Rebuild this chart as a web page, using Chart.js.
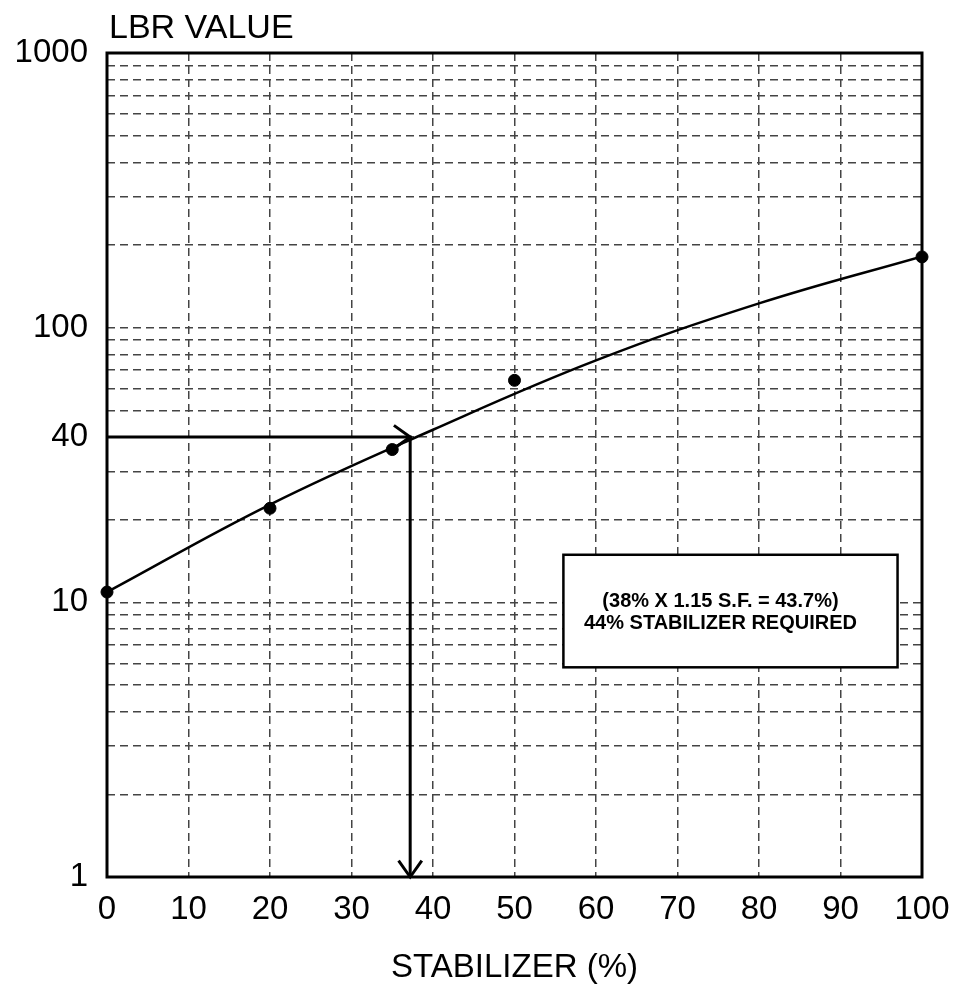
<!DOCTYPE html>
<html>
<head>
<meta charset="utf-8">
<script src="https://cdn.jsdelivr.net/npm/chart.js@4.4.1/dist/chart.umd.min.js"></script>
<style>
  html, body { margin: 0; padding: 0; background: #fff; }
  #wrap { width: 956px; height: 990px; }
</style>
</head>
<body>
<div id="wrap"><canvas id="c" width="956" height="990"></canvas></div>
<script>
// ---- data ----
const xTickValues = [0, 10, 20, 30, 40, 50, 60, 70, 80, 90, 100];
const yTickLabels = [1, 10, 40, 100, 1000];
const curveX = [0, 20, 40, 60, 80, 100];
const curveY = [10.9, 22.7, 42.5, 76.0, 122.6, 181.8];
const pointX = [0, 20, 35, 50, 100];
const pointY = [10.9, 22.0, 36.0, 64.3, 181];
const arrowX = [0, 37.2, 37.2];
const arrowY = [40, 40, 1];
const noteLines = ['(38% X 1.15 S.F. = 43.7%)', '44% STABILIZER REQUIRED'];
const noteBoxX = [56, 97];     // data x range of note box
const noteBoxY = [14.9, 5.8];  // data y range of note box
const yTitle = 'LBR VALUE';
const xTitle = 'STABILIZER (%)';

const FONT = '"Liberation Sans", Arial, Helvetica, sans-serif';

const yGridValues = [];
for (let d = 1; d <= 100; d *= 10) for (let m = 1; m <= 9; m++) yGridValues.push(m * d);
yGridValues.push(1000);

const decorPlugin = {
  id: 'decor',
  afterDatasetsDraw(chart) {
    const {ctx, scales: {x, y}} = chart;
    // arrowheads
    ctx.save();
    ctx.strokeStyle = '#000';
    ctx.lineWidth = 3;
    ctx.lineCap = 'butt';
    const drawHead = (tx, ty, angle) => {
      const len = 20, spread = 0.62;
      ctx.beginPath();
      ctx.moveTo(tx - len * Math.cos(angle - spread), ty - len * Math.sin(angle - spread));
      ctx.lineTo(tx, ty);
      ctx.lineTo(tx - len * Math.cos(angle + spread), ty - len * Math.sin(angle + spread));
      ctx.stroke();
    };
    drawHead(x.getPixelForValue(arrowX[1]), y.getPixelForValue(arrowY[1]), 0);
    drawHead(x.getPixelForValue(arrowX[2]), y.getPixelForValue(arrowY[2]), Math.PI / 2);
    ctx.restore();

    // note box
    const bx1 = x.getPixelForValue(noteBoxX[0]);
    const bx2 = x.getPixelForValue(noteBoxX[1]);
    const by1 = y.getPixelForValue(noteBoxY[0]);
    const by2 = y.getPixelForValue(noteBoxY[1]);
    ctx.save();
    ctx.fillStyle = '#fff';
    ctx.fillRect(bx1, by1, bx2 - bx1, by2 - by1);
    ctx.strokeStyle = '#000';
    ctx.lineWidth = 2.5;
    ctx.strokeRect(bx1, by1, bx2 - bx1, by2 - by1);
    ctx.fillStyle = '#000';
    ctx.font = 'bold 20px ' + FONT;
    ctx.textAlign = 'center';
    ctx.textBaseline = 'middle';
    const cx = (bx1 + bx2) / 2 - 10;
    const cy = (by1 + by2) / 2;
    ctx.fillText(noteLines[0], cx, cy - 10);
    ctx.fillText(noteLines[1], cx, cy + 12);
    ctx.restore();
  },
  afterDraw(chart) {
    const {ctx, chartArea: a} = chart;
    ctx.save();
    ctx.strokeStyle = '#000';
    ctx.lineWidth = 3;
    ctx.strokeRect(a.left, a.top, a.right - a.left, a.bottom - a.top);
    // y axis title (horizontal, above the plot)
    ctx.fillStyle = '#000';
    ctx.font = '34px ' + FONT;
    ctx.textAlign = 'left';
    ctx.textBaseline = 'alphabetic';
    ctx.fillText(yTitle, a.left + 2, 38);
    ctx.restore();
  }
};

new Chart(document.getElementById('c'), {
  type: 'line',
  data: {
    datasets: [
      {
        label: 'curve',
        data: curveX.map((v, i) => ({x: v, y: curveY[i]})),
        borderColor: '#000',
        borderWidth: 2.5,
        pointRadius: 0,
        tension: 0.4,
        fill: false
      },
      {
        label: 'points',
        type: 'scatter',
        data: pointX.map((v, i) => ({x: v, y: pointY[i]})),
        backgroundColor: '#000',
        borderColor: '#000',
        pointRadius: 6,
        showLine: false,
        clip: false
      },
      {
        label: 'arrow',
        data: arrowX.map((v, i) => ({x: v, y: arrowY[i]})),
        borderColor: '#000',
        borderWidth: 3,
        pointRadius: 0,
        tension: 0,
        fill: false
      }
    ]
  },
  options: {
    responsive: false,
    animation: false,
    events: [],
    layout: { padding: { top: 53, right: 34, left: 0, bottom: 0 } },
    plugins: { legend: { display: false }, tooltip: { enabled: false }, title: { display: false } },
    scales: {
      x: {
        type: 'linear',
        min: 0, max: 100,
        afterFit(s) { s.height = 113; s.paddingLeft = 0; s.paddingRight = 0; },
        afterBuildTicks(s) { s.ticks = xTickValues.map(v => ({value: v})); },
        grid: { color: '#444', lineWidth: 1.5, drawTicks: false },
        border: { display: false, dash: [8, 5] },
        ticks: { color: '#000', font: { family: FONT, size: 33 }, padding: 13, maxRotation: 0, autoSkip: false },
        title: { display: true, text: xTitle, color: '#000', font: { family: FONT, size: 33 }, padding: { top: 0, bottom: 2 } }
      },
      y: {
        type: 'logarithmic',
        min: 1, max: 1000,
        afterFit(s) { s.width = 107; s.paddingTop = 0; s.paddingBottom = 0; },
        afterBuildTicks(s) { s.ticks = yGridValues.map(v => ({value: v})); },
        grid: { color: '#444', lineWidth: 1.5, drawTicks: false },
        border: { display: false, dash: [8, 5] },
        ticks: {
          color: '#000', font: { family: FONT, size: 33 }, padding: 19, autoSkip: false,
          callback: (v) => yTickLabels.includes(v) ? String(v) : ''
        }
      }
    }
  },
  plugins: [decorPlugin]
});
</script>
</body>
</html>
